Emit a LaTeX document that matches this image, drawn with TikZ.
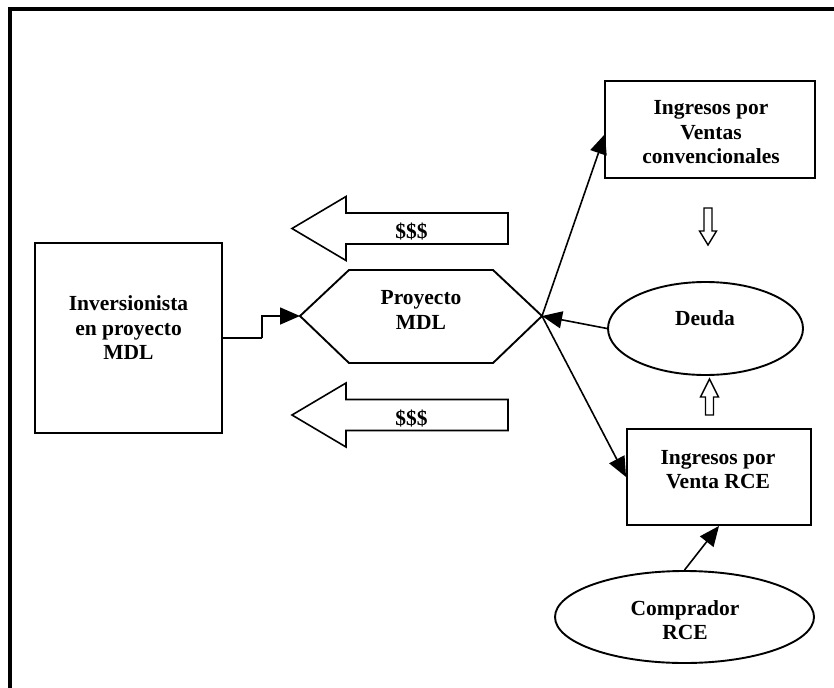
\documentclass[tikz,border=0pt]{standalone}
\usepackage{fontspec}
\setmainfont{Liberation Serif}
\usetikzlibrary{shapes.geometric,arrows.meta}
\begin{document}
\begin{tikzpicture}[x=1pt,y=-1pt,
  box/.style={draw,line width=1.9pt,rectangle,inner sep=0pt},
  oval/.style={draw,line width=1.9pt,ellipse,inner sep=0pt},
  lbl/.style={font=\bfseries\fontsize{21.5}{24.5}\selectfont,align=center,inner sep=0pt},
  conn/.style={line width=1.6pt,-{Triangle[length=20pt,width=17pt]}},
  block/.style={draw,line width=1.6pt,fill=white,line join=miter}
]
\useasboundingbox (0,0) rectangle (834,687);
% outer frame
\draw[line width=4pt] (10,9) rectangle (860,720);

% Investor box
\node[box,minimum width=187pt,minimum height=190pt] (inv) at (128.5,338) {};
\node[lbl] (invt) at (128.5,328) {Inversionista\\en proyecto\\MDL};

% Hexagon project
\coordinate (hexL) at (300,316);
\coordinate (hexR) at (542,316);
\draw[line width=1.9pt,line join=miter] (hexL) -- (349,270) -- (493,270) -- (hexR) -- (493,363) -- (349,363) -- cycle;
\node[lbl] (hext) at (421,310) {Proyecto\\MDL};

% block arrows
\draw[block] (292,228.5) -- (346,196.5) -- (346,213) -- (508,213) -- (508,244) -- (346,244) -- (346,260.5) -- cycle;
\node[lbl] (d1) at (411.5,231.5) {\$\$\$};
\draw[block] (292,415) -- (346,383) -- (346,399.5) -- (508,399.5) -- (508,430.5) -- (346,430.5) -- (346,447) -- cycle;
\node[lbl] (d2) at (411.5,418.5) {\$\$\$};

% Ventas convencionales
\node[box,minimum width=210pt,minimum height=97pt] (ventas) at (710,129.5) {};
\node[lbl] (ventast) at (711,132.4) {Ingresos por\\Ventas\\convencionales};
\coordinate (ventasIn) at (605,134);

% Deuda
\node[oval,minimum width=195pt,minimum height=93pt] (deuda) at (705.5,328.5) {};
\node[lbl] (deudat) at (705,318) {Deuda};

% Venta RCE
\node[box,minimum width=184pt,minimum height=96pt] (rce) at (719,477) {};
\node[lbl] (rcet) at (718,469.5) {Ingresos por\\Venta RCE};

% Comprador RCE
\node[oval,minimum width=259pt,minimum height=92pt] (comp) at (684.5,617) {};
\node[lbl] (compt) at (685,620) {Comprador\\RCE};

% hollow arrows
\draw[line width=1.4pt,line join=miter] (704,208) -- (712,208) -- (712,231) -- (716.5,231) -- (708,245) -- (699.5,231) -- (704,231) -- cycle;
\draw[line width=1.4pt,line join=miter] (705.5,415) -- (713.5,415) -- (713.5,397) -- (718.5,397) -- (709.5,379) -- (700.5,397) -- (705.5,397) -- cycle;

% connectors
\draw[line width=1.6pt] (inv.east) -- ++(39,0) coordinate (stp);
\draw[conn] (stp) |- (hexL);
\draw[conn] (deuda.west) -- (hexR);
\draw[conn] (hexR) -- (ventasIn);
\draw[conn] (hexR) -- (rce.west);
\draw[conn] (comp.north) -- (rce.south);
\end{tikzpicture}
\end{document}
